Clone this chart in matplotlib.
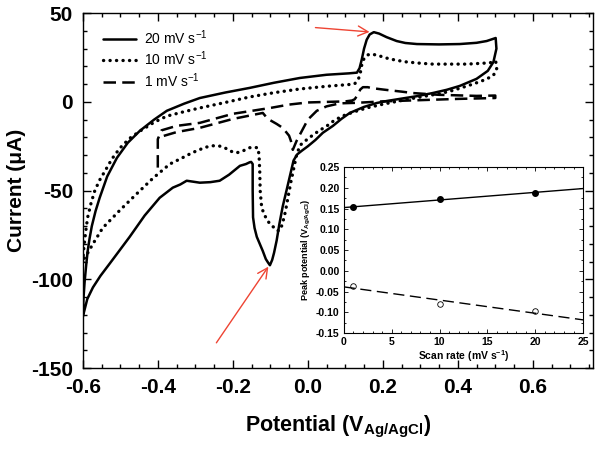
import numpy as np
import matplotlib
matplotlib.use('Agg')
import matplotlib.pyplot as plt
from matplotlib.ticker import MultipleLocator, FormatStrFormatter

plt.rcParams['font.family'] = ['Liberation Sans', 'DejaVu Sans']
plt.rcParams['mathtext.default'] = 'regular'
plt.rcParams['axes.unicode_minus'] = False

# cyclic voltammograms, potential (V) and current (uA)
cv20_v = [-0.600, -0.598, -0.595, -0.591, -0.587, -0.582, -0.576, -0.566, -0.555, -0.535,
          -0.509, -0.480, -0.448, -0.410, -0.376, -0.330, -0.288, -0.220, -0.155, -0.090,
          -0.021, 0.050, 0.110, 0.131, 0.138, 0.144, 0.150, 0.157, 0.165, 0.176,
          0.190, 0.210, 0.237, 0.260, 0.291, 0.350, 0.405, 0.450, 0.477, 0.501,
          0.503, 0.495, 0.480, 0.450, 0.405, 0.370, 0.333, 0.290, 0.245, 0.210,
          0.184, 0.150, 0.112, 0.090, 0.067, 0.040, 0.020, 0.000, -0.016, -0.028,
          -0.038, -0.048, -0.058, -0.067, -0.076, -0.083, -0.090, -0.095, -0.101, -0.106,
          -0.112, -0.120, -0.128, -0.136, -0.142, -0.146, -0.147, -0.147, -0.151, -0.155,
          -0.165, -0.181, -0.210, -0.235, -0.260, -0.288, -0.310, -0.323, -0.340, -0.360,
          -0.395, -0.435, -0.475, -0.505, -0.528, -0.553, -0.573, -0.588, -0.600]
cv20_i = [-121, -110, -101, -92, -84, -77, -70, -61.5, -54, -42,
          -31.5, -23, -16.3, -10, -5, -1, 2.2, 5.3, 7.9, 10.8,
          13.5, 15.3, 16.1, 16.5, 19, 24, 30, 35, 38, 39.3,
          38.5, 36.5, 34.3, 33.2, 32.6, 32.4, 32.6, 33.3, 34.3, 36,
          30, 22.5, 17.5, 13, 9, 6.8, 5, 3.2, 1.7, 0.5,
          -0.6, -2.8, -6.2, -9.5, -13.5, -17.4, -21.5, -25, -27.5, -29.5,
          -33, -42, -51, -59, -69, -78, -85, -89, -92, -90.5,
          -88.5, -84, -80, -76, -71, -65, -50, -35, -33.8, -34,
          -35, -36, -41, -44.4, -45.2, -45.5, -44.8, -44.4, -46.5, -48.3,
          -54, -64, -76, -84.5, -91, -98, -104.5, -111, -121]

cv10_v = [-0.600, -0.598, -0.595, -0.591, -0.587, -0.578, -0.568, -0.555, -0.541, -0.522,
          -0.501, -0.475, -0.448, -0.410, -0.376, -0.330, -0.288, -0.220, -0.155, -0.090,
          -0.021, 0.050, 0.110, 0.125, 0.134, 0.139, 0.144, 0.150, 0.160, 0.170,
          0.190, 0.210, 0.235, 0.264, 0.300, 0.333, 0.424, 0.485, 0.501,
          0.504, 0.500, 0.493, 0.470, 0.440, 0.410, 0.379, 0.350, 0.317, 0.280,
          0.245, 0.200, 0.157, 0.125, 0.093, 0.070, 0.051, 0.028, 0.005, -0.010,
          -0.021, -0.030, -0.045, -0.060, -0.068, -0.075, -0.082, -0.088, -0.098, -0.107,
          -0.116, -0.123, -0.127, -0.128, -0.130, -0.133, -0.145, -0.155, -0.172, -0.190,
          -0.205, -0.220, -0.235, -0.253, -0.272, -0.290, -0.310, -0.330, -0.368, -0.413,
          -0.456, -0.501, -0.547, -0.573, -0.588, -0.595, -0.600]
cv10_i = [-90, -84, -78, -71, -65, -57, -50, -44, -39, -32,
          -26, -20.5, -16.5, -11.5, -8, -5.5, -3.4, -0.3, 2.8, 5.2,
          7.3, 8.8, 9.8, 10.2, 12.5, 15, 21, 24.5, 26.5, 27,
          26, 24.7, 23.5, 22.5, 21.8, 21.3, 21.3, 22, 23,
          19, 16.5, 14.6, 12.3, 10, 8, 6, 4.6, 3.4, 2,
          0.6, -1.3, -3.4, -5.5, -7.9, -10.5, -13.5, -16.5, -20, -22.5,
          -24.5, -30, -45, -62, -69, -72.5, -72.5, -71, -69.5, -67,
          -63.5, -59.5, -50, -40, -30, -25.8, -25.6, -25.8, -27.5, -28.7,
          -27.8, -26, -24.9, -24.7, -25.5, -27, -28.8, -31, -35, -43,
          -51.7, -61, -71, -80, -85.5, -87.6, -90]

cv1_v = [-0.400, -0.400, -0.390, -0.350, -0.288, -0.200, -0.100, -0.050, 0.000, 0.100,
         0.118, 0.125, 0.130, 0.135, 0.140, 0.147, 0.160, 0.170, 0.200, 0.220,
         0.250, 0.280, 0.350, 0.450, 0.500,
         0.500, 0.400, 0.300, 0.200, 0.130, 0.085, 0.050, 0.024, 0.000, -0.015,
         -0.030, -0.040, -0.045, -0.050, -0.067, -0.083, -0.107, -0.120, -0.200, -0.288,
         -0.350, -0.390, -0.400]
cv1_i = [-37, -21, -16, -13.5, -11.8, -6.7, -3.4, -1.5, -0.3, 0.3,
         0.8, 1.5, 3, 5, 7, 8.3, 8.3, 7.8, 7, 6.5,
         5.8, 5, 4, 3.4, 3.6,
         2.2, 1.7, 1.0, 0.3, -0.5, -0.8, -2.5, -5, -10, -16,
         -22, -27, -22, -19, -14.6, -12.4, -9.5, -6.2, -9.6, -14.6,
         -17, -19.5, -21]

# inset: peak potentials vs scan rate
scan_rate = [1, 10, 20]
ep_anodic = [0.153, 0.173, 0.188]
ep_cathodic = [-0.037, -0.080, -0.098]

fig = plt.figure(figsize=(6, 4.54), dpi=100)
ax = fig.add_axes([0.138, 0.189, 0.850, 0.782])

kw = dict(color='black', solid_joinstyle='round', solid_capstyle='round')
ax.plot(cv20_v, cv20_i, lw=1.8, ls='-', label='20 mV s$^{-1}$', **kw)
ax.plot(cv10_v, cv10_i, lw=2.4, ls=(0, (0.05, 1.9)), dash_capstyle='round',
        label='10 mV s$^{-1}$', **kw)
ax.plot(cv1_v, cv1_i, lw=1.8, ls=(0, (5, 2.5)), label='1 mV s$^{-1}$', **kw)

ax.set_xlim(-0.6, 0.76)
ax.set_ylim(-150, 50)
ax.xaxis.set_minor_locator(MultipleLocator(0.05))
ax.yaxis.set_major_locator(MultipleLocator(50))
ax.yaxis.set_minor_locator(MultipleLocator(10))
ax.xaxis.set_major_formatter(FormatStrFormatter('%.1f'))
ax.set_xticks([-0.6, -0.4, -0.2, 0.0, 0.2, 0.4, 0.6])
ax.tick_params(which='both', direction='in', top=True, right=True, width=1.0)
ax.tick_params(which='major', length=6, labelsize=15, pad=7)
ax.tick_params(which='minor', length=3)
for lab in ax.get_xticklabels() + ax.get_yticklabels():
    lab.set_fontweight('bold')
for s in ax.spines.values():
    s.set_linewidth(1.0)

ax.set_xlabel('Potential (V$_{Ag/AgCl}$)', fontsize=15.5, fontweight='bold', labelpad=12)
ax.set_ylabel('Current (\u03bcA)', fontsize=15, fontweight='bold', labelpad=4)

ax.legend(loc='upper left', bbox_to_anchor=(0.02, 0.985), frameon=False, fontsize=10,
          handlelength=2.4, handletextpad=0.6, labelspacing=0.2, borderaxespad=0.3)

# red arrows marking the peaks
ax.annotate('', xy=(0.172, 39.3), xytext=(0.013, 42),
            arrowprops=dict(arrowstyle='->', color='#ee4433', lw=1.0, mutation_scale=18))
ax.annotate('', xy=(-0.101, -91.5), xytext=(-0.248, -137),
            arrowprops=dict(arrowstyle='->', color='#ee4433', lw=1.0, mutation_scale=18))

# inset
ins = fig.add_axes([0.573, 0.2665, 0.399, 0.3655])
ins.plot(scan_rate, ep_anodic, 'o', color='black', ms=4)
ins.plot(scan_rate, ep_cathodic, 'o', mfc='white', mec='black', ms=4, mew=0.6)
xfit = np.array([0, 25])
pa = np.polyfit(scan_rate, ep_anodic, 1)
pc = np.polyfit(scan_rate, ep_cathodic, 1)
ins.plot(xfit, np.polyval(pa, xfit), color='black', lw=1.0)
ins.plot(xfit, np.polyval(pc, xfit), color='black', lw=1.0, ls=(0, (8, 4)))
ins.set_xlim(0, 25)
ins.set_ylim(-0.15, 0.25)
ins.xaxis.set_major_locator(MultipleLocator(5))
ins.xaxis.set_minor_locator(MultipleLocator(1))
ins.yaxis.set_major_locator(MultipleLocator(0.05))
ins.yaxis.set_minor_locator(MultipleLocator(0.025))
ins.yaxis.set_major_formatter(FormatStrFormatter('%.2f'))
ins.tick_params(which='both', direction='in', top=True, right=True, width=0.6)
ins.tick_params(which='major', length=3, labelsize=7.5, pad=3)
ins.tick_params(which='minor', length=1.5)
for lab in ins.get_xticklabels() + ins.get_yticklabels():
    lab.set_fontweight('bold')
for s in ins.spines.values():
    s.set_linewidth(0.8)
ins.set_xlabel('Scan rate (mV s$^{-1}$)', fontsize=7.5, fontweight='bold', labelpad=1)
ins.set_ylabel('Peak potential (V$_{Ag/AgCl}$)', fontsize=6.5, fontweight='bold', labelpad=2)

fig.savefig('out.png', dpi=100)
